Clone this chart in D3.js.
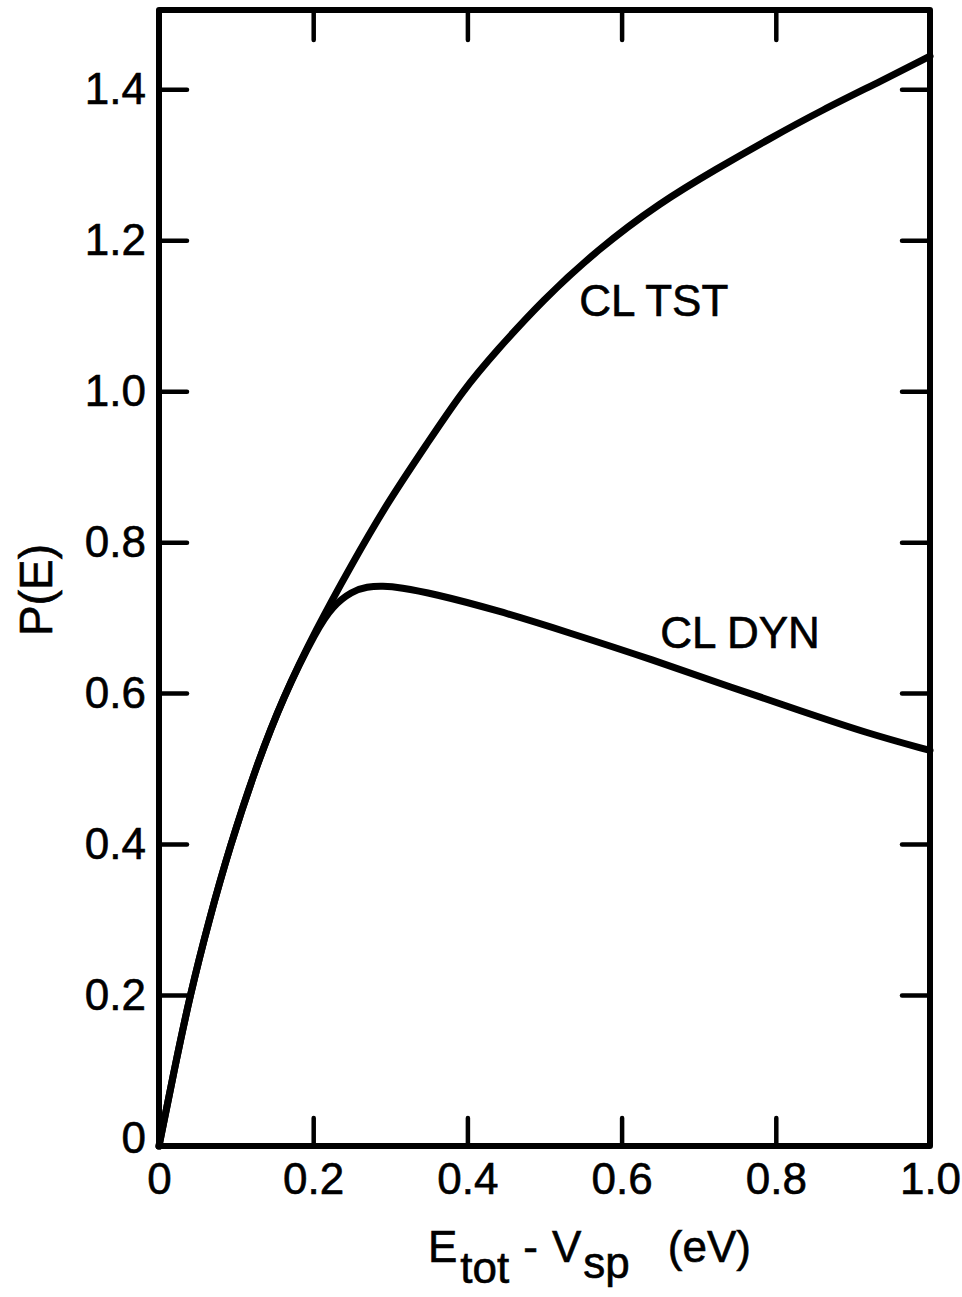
<!DOCTYPE html>
<html>
<head>
<meta charset="utf-8">
<script src="https://cdn.jsdelivr.net/npm/d3@7"></script>
<style>
  html, body { margin: 0; padding: 0; background: #fff; }
  svg { display: block; }
  text { font-family: "Liberation Sans", Arial, sans-serif; fill: #000; stroke: #000; stroke-width: 0.6px; }
</style>
</head>
<body>
<svg id="chart" width="962" height="1297"></svg>
<script>
// ---- data ----
const xTicks = [0, 0.2, 0.4, 0.6, 0.8, 1.0];
const xTickLabels = ["0", "0.2", "0.4", "0.6", "0.8", "1.0"];
const yTicks = [0, 0.2, 0.4, 0.6, 0.8, 1.0, 1.2, 1.4];
const yTickLabels = ["0", "0.2", "0.4", "0.6", "0.8", "1.0", "1.2", "1.4"];

const tstX = [0, 0.020, 0.040, 0.065, 0.092, 0.125, 0.161, 0.205, 0.248, 0.296, 0.348, 0.394, 0.438, 0.498, 0.568, 0.650, 0.724, 0.789, 0.861, 0.939, 1.0];
const tstY = [0, 0.102, 0.199, 0.300, 0.397, 0.500, 0.595, 0.687, 0.767, 0.852, 0.931, 1.001, 1.054, 1.121, 1.187, 1.250, 1.295, 1.333, 1.373, 1.412, 1.444];

const dynX = [0, 0.020, 0.040, 0.065, 0.092, 0.125, 0.161, 0.205, 0.225, 0.250, 0.270, 0.290, 0.313, 0.355, 0.438, 0.529, 0.641, 0.744, 0.831, 0.918, 1.0];
const dynY = [0, 0.102, 0.199, 0.300, 0.397, 0.500, 0.595, 0.685, 0.715, 0.735, 0.741, 0.742, 0.740, 0.732, 0.710, 0.681, 0.644, 0.607, 0.577, 0.547, 0.524];

const seriesLabels = ["CL TST", "CL DYN"];
const labelAt = [[0.545, 1.100], [0.650, 0.660]];

// ---- layout ----
const svg = d3.select("#chart");
const mLeft = 159, mRight = 930, mTop = 10, mBottom = 1146;
const x = d3.scaleLinear().domain([0, 1.0]).range([mLeft, mRight]);
const y = d3.scaleLinear().domain([0, 1.505]).range([mBottom, mTop]);

const fontSize = 44;

// axes
const gB = svg.append("g").attr("transform", `translate(0,${mBottom})`)
  .call(d3.axisBottom(x).tickValues(xTicks).tickSize(-28).tickPadding(17)
    .tickFormat((d, i) => xTickLabels[i]));
const gT = svg.append("g").attr("transform", `translate(0,${mTop})`)
  .call(d3.axisTop(x).tickValues(xTicks.slice(1, -1)).tickSize(-30).tickFormat(""));
const gL = svg.append("g").attr("transform", `translate(${mLeft},0)`)
  .call(d3.axisLeft(y).tickValues(yTicks).tickSize(-28).tickPadding(13)
    .tickFormat((d, i) => yTickLabels[i]));
const gR = svg.append("g").attr("transform", `translate(${mRight},0)`)
  .call(d3.axisRight(y).tickValues(yTicks.slice(1)).tickSize(-28).tickFormat(""));

[gB, gT, gL, gR].forEach(g => {
  g.select(".domain").remove();
  g.selectAll(".tick line").attr("stroke", "#000").attr("stroke-width", 4.5)
    .attr("stroke-linecap", "round");
  g.selectAll(".tick text").style("font-size", fontSize + "px")
    .style("font-family", '"Liberation Sans", Arial, sans-serif')
    .attr("fill", "#000").attr("stroke", "#000").attr("stroke-width", 0.6);
});
// hide tick lines that fall on the frame
gB.selectAll(".tick").filter(d => d === 0 || d === 1.0).select("line").remove();
gL.selectAll(".tick").filter(d => d === 0).select("line").remove();
gL.selectAll(".tick").filter(d => d === 0).select("text").attr("dy", "0.14em");

// frame
svg.append("rect")
  .attr("x", mLeft).attr("y", mTop)
  .attr("width", mRight - mLeft).attr("height", mBottom - mTop)
  .attr("fill", "none").attr("stroke", "#000").attr("stroke-width", 6)
  .attr("stroke-linejoin", "round");

// curves
const line = d3.line().x(d => x(d[0])).y(d => y(d[1])).curve(d3.curveBasis);
const tst = tstX.map((v, i) => [v, tstY[i]]);
const dyn = dynX.map((v, i) => [v, dynY[i]]);
[tst, dyn].forEach(s => {
  svg.append("path").attr("d", line(s))
    .attr("fill", "none").attr("stroke", "#000").attr("stroke-width", 7)
    .attr("stroke-linejoin", "round").attr("stroke-linecap", "round");
});

// series labels
seriesLabels.forEach((t, i) => {
  svg.append("text").attr("x", x(labelAt[i][0])).attr("y", y(labelAt[i][1]))
    .style("font-size", "44px").text(t);
});

// y axis title
svg.append("text")
  .attr("transform", `translate(52,${590}) rotate(-90)`)
  .attr("text-anchor", "middle")
  .style("font-size", "46px")
  .text("P(E)");

// x axis title
const xt = svg.append("text").attr("x", 428).attr("y", 1262).style("font-size", "44px");
xt.append("tspan").text("E");
xt.append("tspan").attr("dy", 21).attr("dx", 3).text("tot");
xt.append("tspan").attr("dy", -21).attr("dx", 14).text("-");
xt.append("tspan").attr("dx", 14).text("V");
xt.append("tspan").attr("dy", 16).attr("dx", 2).text("sp");
xt.append("tspan").attr("dy", -16).attr("dx", 38).text("(eV)");
</script>
</body>
</html>
